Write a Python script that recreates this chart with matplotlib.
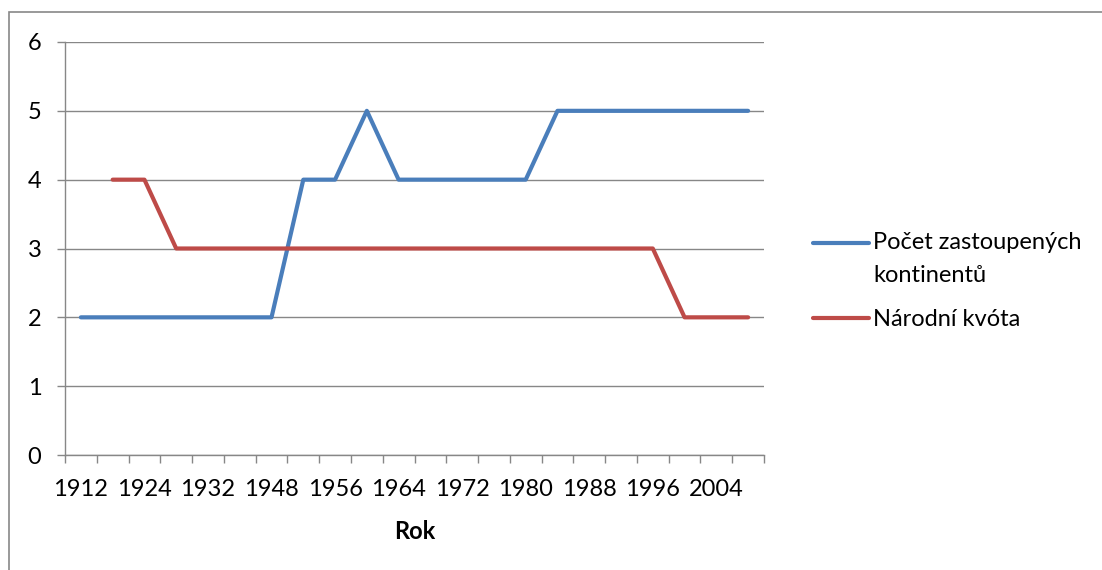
import numpy as np
import matplotlib
matplotlib.use('Agg')
import matplotlib.pyplot as plt
from matplotlib.patches import Rectangle
from matplotlib.legend_handler import HandlerLine2D

# Roky konání OH (kategorie na ose x)
roky = [1912, 1920, 1924, 1928, 1932, 1936, 1948, 1952, 1956, 1960, 1964,
        1968, 1972, 1976, 1980, 1984, 1988, 1992, 1996, 2000, 2004, 2008]
# Počet zastoupených kontinentů
kontinenty = [2, 2, 2, 2, 2, 2, 2, 4, 4, 5, 4, 4, 4, 4, 4, 5, 5, 5, 5, 5, 5, 5]
# Národní kvóta (pro 1912 chybí)
kvota = [np.nan, 4, 4, 3, 3, 3, 3, 3, 3, 3, 3, 3, 3, 3, 3, 3, 3, 3, 3, 2, 2, 2]

nazev_modra = 'Počet zastoupených\nkontinentů'
nazev_cervena = 'Národní kvóta'

plt.rcParams['font.family'] = ['Lato', 'DejaVu Sans']
seda = '#878787'
modra = '#4A7EBB'
cervena = '#BE4B48'


class HandlerPrvniRadek(HandlerLine2D):
    """Značka legendy zarovnaná k prvnímu řádku víceřádkového popisku."""
    def __init__(self, posun=0.0, **kw):
        super().__init__(**kw)
        self.posun = posun

    def create_artists(self, legend, orig_handle, xdescent, ydescent,
                       width, height, fontsize, trans):
        artists = super().create_artists(legend, orig_handle, xdescent, ydescent,
                                         width, height, fontsize, trans)
        for a in artists:
            a.set_ydata(np.asarray(a.get_ydata()) + self.posun)
        return artists


fig = plt.figure(figsize=(11.02, 5.70), dpi=100)
ax = fig.add_axes([65 / 1102, 1 - 455 / 570, (764 - 65) / 1102, (455 - 42) / 570])

x = np.arange(len(roky))
l1, = ax.plot(x, kontinenty, color=modra, linewidth=3.0, solid_capstyle='round',
              solid_joinstyle='round', label=nazev_modra, zorder=3)
l2, = ax.plot(x, kvota, color=cervena, linewidth=3.0, solid_capstyle='round',
              solid_joinstyle='round', label=nazev_cervena, zorder=3)

ax.set_xlim(-0.5, len(roky) - 0.5)
ax.set_ylim(0, 6)
ax.set_yticks(range(0, 7))
ax.grid(axis='y', color=seda, linewidth=1.0)
ax.set_axisbelow(True)

# hlavní značky na hranicích kategorií, popisky každou druhou kategorii
ax.set_xticks(np.arange(-0.5, len(roky), 1.0))
ax.set_xticklabels([])
ax.set_xticks(x[::2], minor=True)
ax.set_xticklabels([str(r) for r in roky[::2]], minor=True)
ax.tick_params(axis='x', which='major', length=6, width=1.0, color=seda, direction='out')
ax.tick_params(axis='x', which='minor', length=0, pad=17, labelsize=17)
ax.tick_params(axis='y', length=6, width=1.0, color=seda, pad=11, labelsize=17)

for s in ['top', 'right']:
    ax.spines[s].set_visible(False)
for s in ['left', 'bottom']:
    ax.spines[s].set_color(seda)
    ax.spines[s].set_linewidth(1.0)

ax.set_xlabel('Rok', fontsize=17, fontweight='bold', labelpad=15)

leg = ax.legend(loc='center left', bbox_to_anchor=(792 / 1102, 1 - 281 / 570),
                bbox_transform=fig.transFigure, frameon=False, fontsize=17,
                handlelength=2.35, handletextpad=0.2, labelspacing=0.98,
                handler_map={l1: HandlerPrvniRadek(posun=12.0)})
for t in leg.get_texts():
    t.set_linespacing(1.7)

# rámeček grafu
fig.patches.append(Rectangle((8.5 / 1102, -0.1), 1.2, 1.1 - 12.5 / 570,
                             transform=fig.transFigure, fill=False,
                             edgecolor=seda, linewidth=1.2))

fig.savefig('out.png', dpi=100)
